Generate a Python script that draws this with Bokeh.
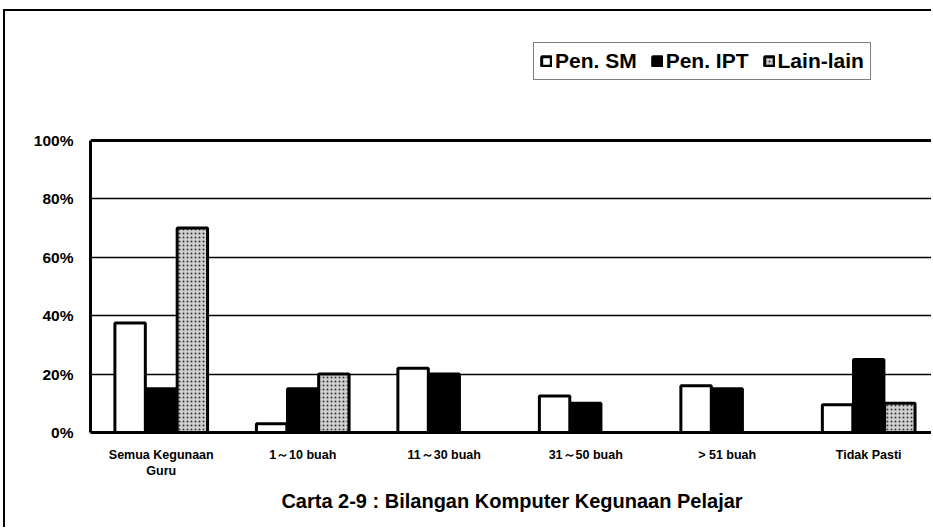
from bokeh.plotting import figure
from bokeh.models import (ColumnDataSource, Range1d, FixedTicker, LinearAxis,
                          Legend, LegendItem, Grid, Span)
from bokeh.transform import dodge
from bokeh.embed import file_html
from bokeh.resources import INLINE

# ---- data ----
categories = ["Semua Kegunaan\nGuru", "1～10 buah", "11～30 buah",
              "31～50 buah", "> 51 buah", "Tidak Pasti"]
series_names = ["Pen. SM", "Pen. IPT", "Lain-lain"]
pen_sm = [37.5, 3, 22, 12.5, 16, 9.5]
pen_ipt = [15, 15, 20, 10, 15, 25]
lain_lain = [70, 20, 0, 0, 0, 10]
y_ticks = [0, 20, 40, 60, 80, 100]
y_tick_labels = ["0%", "20%", "40%", "60%", "80%", "100%"]
title_text = "Carta 2-9 : Bilangan Komputer Kegunaan Pelajar"

xpos = [i + 0.5 for i in range(len(categories))]
src = ColumnDataSource(dict(x=xpos, sm=pen_sm, ipt=pen_ipt, lain=lain_lain))

FONT = "Liberation Sans"

p = figure(width=928, height=518,
           x_range=Range1d(0, 5.958), y_range=Range1d(0, 137.33),
           output_backend="svg", toolbar_location=None,
           min_border_left=85, min_border_right=0,
           min_border_top=20, min_border_bottom=97,
           outline_line_color=None,
           background_fill_color="white", border_fill_color="white",
           x_axis_location=None, y_axis_location=None,
           styles={"margin-left": "3px", "margin-top": "9px",
                   "border-left": "2px solid black",
                   "border-top": "2px solid black"})

p.xgrid.visible = False
p.ygrid.visible = False

# axes
left = LinearAxis(ticker=FixedTicker(ticks=y_ticks), bounds=(0, 100),
                  major_label_overrides={t: l for t, l in zip(y_ticks, y_tick_labels)},
                  axis_line_width=3, axis_line_color="black",
                  major_tick_line_color=None, minor_tick_line_color=None,
                  major_tick_out=0, major_tick_in=0,
                  major_label_standoff=17,
                  major_label_text_font=FONT, major_label_text_font_style="bold",
                  major_label_text_font_size="15.5px", major_label_text_color="black")
p.add_layout(left, "left")

below = LinearAxis(ticker=FixedTicker(ticks=xpos),
                   major_label_overrides={x: c for x, c in zip(xpos, categories)},
                   axis_line_width=3, axis_line_color="black",
                   major_tick_line_color=None, minor_tick_line_color=None,
                   major_tick_out=0, major_tick_in=0,
                   major_label_standoff=15,
                   major_label_text_font=FONT, major_label_text_font_style="bold",
                   major_label_text_font_size="12.5px", major_label_text_color="black",
                   axis_label=title_text, axis_label_standoff=9,
                   axis_label_text_font=FONT, axis_label_text_font_style="bold",
                   axis_label_text_font_size="20px", axis_label_text_color="black")
p.add_layout(below, "below")

grid = Grid(dimension=1, ticker=FixedTicker(ticks=y_ticks[1:-1]),
            grid_line_color="black", grid_line_width=1.5)
p.add_layout(grid)
p.add_layout(Span(location=y_ticks[-1], dimension="width",
                  line_color="black", line_width=3))

bw = 0.215
r1 = p.vbar(x=dodge("x", -0.22, range=p.x_range), top="sm", width=bw, source=src,
            fill_color="white", line_color="black", line_width=3)
r2 = p.vbar(x=dodge("x", 0.0, range=p.x_range), top="ipt", width=bw, source=src,
            fill_color="black", line_color="black", line_width=3)
r3 = p.vbar(x=dodge("x", 0.22, range=p.x_range), top="lain", width=bw, source=src,
            fill_color="#d0d0d0", line_color="black", line_width=3,
            hatch_pattern="dot", hatch_color="#333333", hatch_scale=4,
            hatch_weight=1)

legend = Legend(items=[LegendItem(label=series_names[0], renderers=[r1]),
                       LegendItem(label=series_names[1], renderers=[r2]),
                       LegendItem(label=series_names[2], renderers=[r3])],
                location=(443, 352), orientation="horizontal",
                border_line_color="black", border_line_width=1.5,
                background_fill_color="white", background_fill_alpha=1,
                label_text_font=FONT, label_text_font_style="bold",
                label_text_font_size="21px", label_text_color="black",
                glyph_width=12, glyph_height=12, label_standoff=3,
                spacing=14, padding=6, margin=0, label_height=18)
p.add_layout(legend)

open("out.html", "w").write(file_html(p, INLINE))
